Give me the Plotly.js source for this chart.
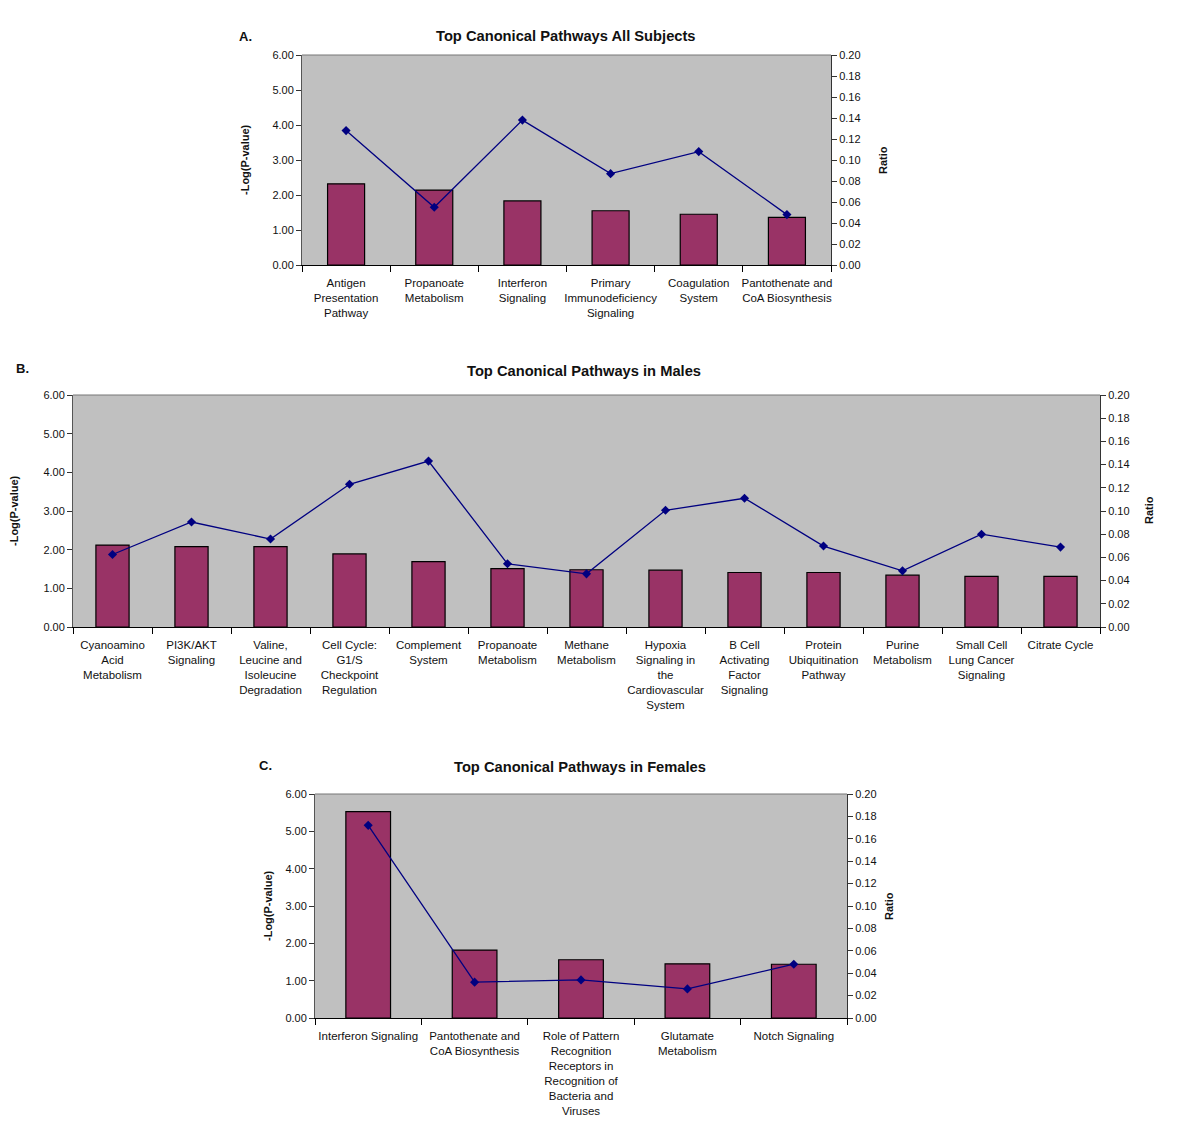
<!DOCTYPE html>
<html>
<head>
<meta charset="utf-8">
<script src="https://cdn.plot.ly/plotly-3.0.1.min.js"></script>
<style>html,body{margin:0;padding:0;background:#fff}#chart{width:1200px;height:1134px}</style>
</head>
<body>
<div id="chart"></div>
<script>
// ---- Data ----
const catsA = ["Antigen<br>Presentation<br>Pathway", "Propanoate<br>Metabolism", "Interferon<br>Signaling", "Primary<br>Immunodeficiency<br>Signaling", "Coagulation<br>System", "Pantothenate and<br>CoA Biosynthesis"];
const logpA = [2.32, 2.14, 1.83, 1.55, 1.45, 1.36];
const ratioA = [0.128, 0.055, 0.138, 0.087, 0.108, 0.048];

const catsB = ["Cyanoamino<br>Acid<br>Metabolism", "PI3K/AKT<br>Signaling", "Valine,<br>Leucine and<br>Isoleucine<br>Degradation", "Cell Cycle:<br>G1/S<br>Checkpoint<br>Regulation", "Complement<br>System", "Propanoate<br>Metabolism", "Methane<br>Metabolism", "Hypoxia<br>Signaling in<br>the<br>Cardiovascular<br>System", "B Cell<br>Activating<br>Factor<br>Signaling", "Protein<br>Ubiquitination<br>Pathway", "Purine<br>Metabolism", "Small Cell<br>Lung Cancer<br>Signaling", "Citrate Cycle"];
const logpB = [2.12, 2.08, 2.08, 1.89, 1.69, 1.51, 1.48, 1.47, 1.41, 1.41, 1.34, 1.31, 1.31];
const ratioB = [0.0625, 0.0905, 0.0758, 0.123, 0.143, 0.0545, 0.0458, 0.1006, 0.111, 0.0698, 0.0484, 0.080, 0.0689];

const catsC = ["Interferon Signaling", "Pantothenate and<br>CoA Biosynthesis", "Role of Pattern<br>Recognition<br>Receptors in<br>Recognition of<br>Bacteria and<br>Viruses", "Glutamate<br>Metabolism", "Notch Signaling"];
const logpC = [5.53, 1.82, 1.56, 1.45, 1.44];
const ratioC = [0.172, 0.032, 0.034, 0.026, 0.048];

const titles = ["Top Canonical Pathways All Subjects", "Top Canonical Pathways in Males", "Top Canonical Pathways in Females"];
const panelLabels = ["A.", "B.", "C."];
const yTitle = "-Log(P-value)";
const y2Title = "Ratio";

// ---- Layout helpers ----
const W = 1200, H = 1134;
const px = v => v / W;
const py = v => 1 - v / H;
const FONT = "Liberation Sans, Arial, sans-serif";
const barColor = "#993366";
const lineColor = "#000080";

// plot boxes in pixels [left, right, top, bottom]
const boxes = [[302, 831, 55, 265], [73, 1100, 395, 627], [315, 847, 794, 1018]];

const traces = [];
const layout = {
  width: W, height: H,
  margin: {l: 0, r: 0, t: 0, b: 0},
  paper_bgcolor: "#ffffff",
  showlegend: false,
  bargap: 0.58,
  font: {family: FONT, size: 11, color: "#111"},
  annotations: [],
  shapes: []
};

const data = [[catsA, logpA, ratioA], [catsB, logpB, ratioB], [catsC, logpC, ratioC]];

data.forEach((d, i) => {
  const n = i + 1;
  const xa = "x" + (n === 1 ? "" : n);
  const yPrim = 2 * n - 1, ySec = 2 * n;
  const ya = "y" + (yPrim === 1 ? "" : yPrim);
  const yb = "y" + ySec;
  traces.push({
    type: "bar", x: d[0], y: d[1], xaxis: xa, yaxis: ya,
    marker: {color: barColor, line: {color: "#000", width: 1.2}},
    hoverinfo: "skip"
  });
  traces.push({
    type: "scatter", mode: "lines+markers", x: d[0], y: d[2], xaxis: xa, yaxis: yb,
    line: {color: lineColor, width: 1.3},
    marker: {symbol: "diamond", size: 7, color: lineColor},
    hoverinfo: "skip"
  });
  const b = boxes[i];
  const xdom = [px(b[0]), px(b[1])];
  const ydom = [py(b[3]), py(b[2])];
  const xKey = "xaxis" + (n === 1 ? "" : n);
  const yKey = "yaxis" + (yPrim === 1 ? "" : yPrim);
  const y2Key = "yaxis" + ySec;
  layout[xKey] = {
    domain: xdom, anchor: ya, type: "category",
    range: [-0.5, d[0].length - 0.5], autorange: false,
    showline: true, linecolor: "#000", linewidth: 1.2,
    ticks: "outside", tickson: "boundaries", ticklen: 6, tickcolor: "#000",
    showgrid: false, zeroline: false, fixedrange: true, automargin: false,
    tickangle: 0,
    tickfont: {family: FONT, size: 11.5, color: "#111"},
    ticklabelstandoff: 7
  };
  layout[yKey] = {
    domain: ydom, anchor: xa, range: [0, 6], dtick: 1, tickformat: ".2f",
    showline: true, linecolor: "#555", linewidth: 1,
    ticks: "outside", ticklen: 5, tickcolor: "#333",
    showgrid: false, zeroline: false, fixedrange: true, automargin: false,
    tickfont: {family: FONT, size: 11, color: "#111"}
  };
  layout[y2Key] = {
    overlaying: ya, anchor: xa, side: "right", range: [0, 0.2], dtick: 0.02, tickformat: ".2f",
    showline: true, linecolor: "#333", linewidth: 1,
    ticks: "outside", ticklen: 5, tickcolor: "#333",
    showgrid: false, zeroline: false, fixedrange: true, automargin: false,
    tickfont: {family: FONT, size: 11, color: "#111"}
  };
  // grey plot area background
  layout.shapes.push({
    type: "rect", xref: "paper", yref: "paper", layer: "below",
    x0: xdom[0], x1: xdom[1], y0: ydom[0], y1: ydom[1],
    fillcolor: "#c0c0c0", line: {width: 0}
  });
  // top border
  layout.shapes.push({
    type: "line", xref: "paper", yref: "paper",
    x0: xdom[0], x1: xdom[1], y0: ydom[1], y1: ydom[1],
    line: {color: "#777", width: 1}
  });
});

const titlePos = [[566, 36], [584, 371], [580, 767]];
const labelPos = [[245, 36], [22, 369], [265, 765]];
const yTitlePos = [[245, 160], [14, 511], [268, 906]];
const y2TitlePos = [[883, 160], [1149, 510], [889, 906]];

for (let i = 0; i < 3; i++) {
  layout.annotations.push({
    text: "<b>" + titles[i] + "</b>", xref: "paper", yref: "paper",
    x: px(titlePos[i][0]), y: py(titlePos[i][1]), xanchor: "center", yanchor: "middle",
    showarrow: false, font: {family: FONT, size: 14.7, color: "#111"}
  });
  layout.annotations.push({
    text: "<b>" + panelLabels[i] + "</b>", xref: "paper", yref: "paper",
    x: px(labelPos[i][0]), y: py(labelPos[i][1]), xanchor: "center", yanchor: "middle",
    showarrow: false, font: {family: FONT, size: 13, color: "#111"}
  });
  layout.annotations.push({
    text: "<b>" + yTitle + "</b>", xref: "paper", yref: "paper", textangle: -90,
    x: px(yTitlePos[i][0]), y: py(yTitlePos[i][1]), xanchor: "center", yanchor: "middle",
    showarrow: false, font: {family: FONT, size: 11, color: "#111"}
  });
  layout.annotations.push({
    text: "<b>" + y2Title + "</b>", xref: "paper", yref: "paper", textangle: -90,
    x: px(y2TitlePos[i][0]), y: py(y2TitlePos[i][1]), xanchor: "center", yanchor: "middle",
    showarrow: false, font: {family: FONT, size: 11, color: "#111"}
  });
}

Plotly.newPlot("chart", traces, layout, {displayModeBar: false, staticPlot: true});
</script>
</body>
</html>
